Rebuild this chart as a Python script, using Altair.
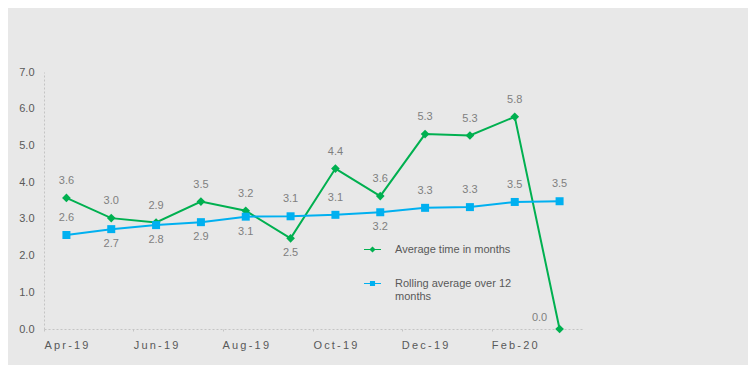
import altair as alt
import pandas as pd

months = ["Apr-19", "May-19", "Jun-19", "Jul-19", "Aug-19", "Sep-19",
          "Oct-19", "Nov-19", "Dec-19", "Jan-20", "Feb-20", "Mar-20"]
avg_time = [3.57, 3.02, 2.90, 3.47, 3.22, 2.47, 4.37, 3.62, 5.31, 5.27, 5.78, 0.0]
rolling = [2.56, 2.72, 2.83, 2.91, 3.06, 3.07, 3.11, 3.18, 3.30, 3.32, 3.46, 3.48]
avg_label_pos = ["above", "above", "above", "above", "above", "below",
                 "above", "above", "above", "above", "above", "left"]
roll_label_pos = ["above", "below", "below", "below", "below", "above",
                  "above", "below", "above", "above", "above", "above"]
series_names = ["Average time in months", "Rolling average over 12 months"]
series_colors = ["#00B050", "#00B0F0"]
tick_months = ["Apr-19", "Jun-19", "Aug-19", "Oct-19", "Dec-19", "Feb-20"]
y_ticks = [0, 1, 2, 3, 4, 5, 6, 7]

rows = []
for m, v, p in zip(months, avg_time, avg_label_pos):
    rows.append({"month": m, "value": v, "series": series_names[0], "pos": p})
for m, v, p in zip(months, rolling, roll_label_pos):
    rows.append({"month": m, "value": v, "series": series_names[1], "pos": p})
df = pd.DataFrame(rows)

FONT = "Liberation Sans"
AXIS_GREY = "#C4C4C4"
LABEL_GREY = "#595959"
DATA_GREY = "#7F7F7F"

x_enc = alt.X(
    "month:N", sort=months,
    scale=alt.Scale(type="band", paddingInner=0, paddingOuter=0),
    axis=alt.Axis(values=tick_months, bandPosition=0, labelAngle=0,
                  title=None, grid=False, tickSize=4, tickColor=AXIS_GREY,
                  tickDash=[2, 2], domainColor=AXIS_GREY, domainDash=[2, 2],
                  labelColor=LABEL_GREY, labelFont=FONT, labelFontSize=11,
                  labelPadding=6,
                  labelExpr="join(split(datum.label, ''), '\u2009')"),
)
y_enc = alt.Y(
    "value:Q",
    scale=alt.Scale(domain=[0, 7], nice=False, zero=True),
    axis=alt.Axis(values=y_ticks, format=".1f", ticks=False, grid=False, title=None,
                  domainColor=AXIS_GREY, domainDash=[2, 2], labelColor=LABEL_GREY,
                  labelFont=FONT, labelFontSize=11, labelPadding=10),
)
color_enc = alt.Color("series:N", scale=alt.Scale(domain=series_names, range=series_colors),
                      legend=None)

base = alt.Chart(df)
line = base.mark_line(strokeWidth=2).encode(x=x_enc, y=y_enc, color=color_enc, detail="series:N")
points = base.mark_point(filled=True, opacity=1).encode(
    x=x_enc, y=y_enc, color=color_enc,
    shape=alt.Shape("series:N", scale=alt.Scale(domain=series_names, range=["diamond", "square"]),
                    legend=None),
    size=alt.Size("series:N", scale=alt.Scale(domain=series_names, range=[75, 64]), legend=None),
)

def labels(pos, **kw):
    return base.transform_filter(alt.datum.pos == pos).mark_text(
        font=FONT, fontSize=11, color=DATA_GREY, baseline="middle", **kw
    ).encode(x=x_enc, y=y_enc, text=alt.Text("value:Q", format=".1f"))

t_above = labels("above", dy=-17)
t_below = labels("below", dy=15)
t_left = labels("left", dx=-20, dy=-11)

main = alt.layer(line, points, t_above, t_below, t_left)

green_sym = "M-1,-0.07H1V0.07H-1Z M0,-0.36L0.36,0L0,0.36L-0.36,0Z"
blue_sym = "M-1,-0.07H1V0.07H-1Z M-0.3,-0.3H0.3V0.3H-0.3Z"

leg = alt.Legend(title=None, orient="none", legendX=319, legendY=168, symbolSize=289,
                 symbolOpacity=1, labelFont=FONT, labelFontSize=11, labelColor=LABEL_GREY,
                 labelOffset=13, rowPadding=18, padding=0, labelLimit=400,
                 labelExpr="datum.label == 'Rolling average over 12 months' ? "
                           "['Rolling average over 12', 'months'] : datum.label")

legend_df = pd.DataFrame({"series": series_names})
legend_layer = alt.Chart(legend_df).mark_point(filled=True, opacity=0).encode(
    color=alt.Color("series:N", scale=alt.Scale(domain=series_names, range=series_colors),
                    legend=leg),
    shape=alt.Shape("series:N", scale=alt.Scale(domain=series_names, range=[green_sym, blue_sym]),
                    legend=leg),
)

chart = alt.layer(main, legend_layer).resolve_scale(
    color="independent", shape="independent"
).properties(
    width=538, height=257,
    autosize=alt.AutoSizeParams(type="none"),
    padding={"left": 36, "top": 64, "right": 166, "bottom": 36},
).configure(background="#E8E8E8").configure_view(stroke=None)

chart.save("out.html", embed_options={"renderer": "svg", "actions": False})
